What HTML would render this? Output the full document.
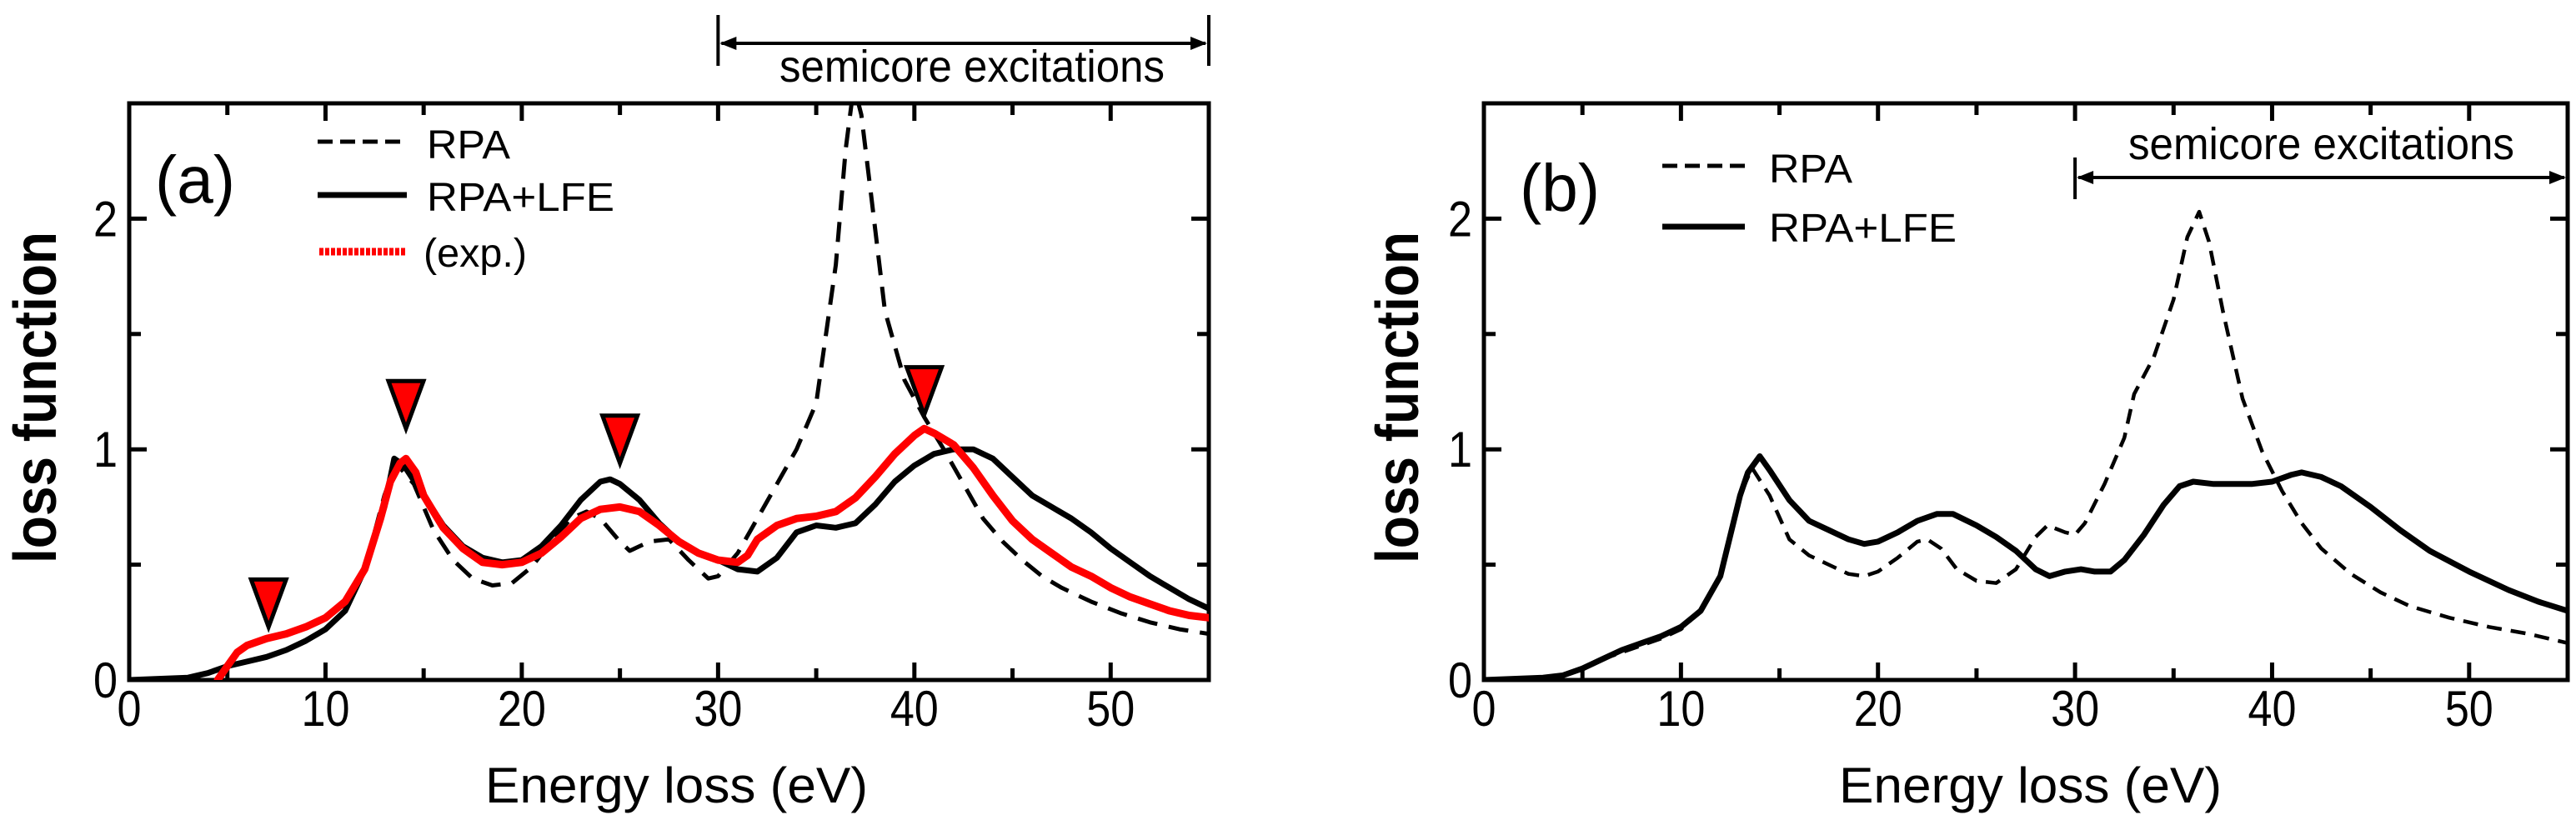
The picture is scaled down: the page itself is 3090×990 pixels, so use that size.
<!DOCTYPE html>
<html><head><meta charset="utf-8"><style>
html,body{margin:0;padding:0;background:#fff;}
svg{display:block;}
text{font-family:"Liberation Sans",Arial,sans-serif;fill:#000;}
</style></head><body>
<svg id="chart" width="3090" height="990" viewBox="0 0 3090 990" xmlns="http://www.w3.org/2000/svg"></svg>
<script>
// ---- Panel (a) data ----
const aRpaX=[0,3,4,5,6,7,8,9,10,11,12,13,13.6,14.5,15.5,16.5,17.5,18.5,19.5,20.5,21.5,22.5,23.3,24,25,25.5,26.5,27.5,28.5,29.5,30,31,32,33,34,35,36,36.5,36.8,37,37.3,37.8,38.5,39.5,40.5,41.5,42.5,43.5,44.5,45.5,46.5,47.5,49,50.5,52,53.5,55];
const aRpaY=[0,0.01,0.03,0.06,0.08,0.10,0.13,0.17,0.22,0.30,0.48,0.80,0.94,0.85,0.65,0.52,0.44,0.41,0.42,0.49,0.60,0.70,0.73,0.70,0.60,0.56,0.60,0.61,0.52,0.44,0.45,0.55,0.70,0.85,1.00,1.20,1.8,2.3,2.5,2.55,2.45,2.1,1.6,1.30,1.14,1.00,0.85,0.70,0.60,0.52,0.45,0.40,0.34,0.29,0.25,0.22,0.20];
const aLfeX=[0,3,4,5,6,7,8,9,10,11,12,13,13.5,14,15,16,17,18,19,20,21,22,23,24,24.5,25,26,27,28,29,30,31,32,33,34,35,36,37,38,39,40,41,42,43,44,45,46,47,48,49,50,51,52,53,54,55];
const aLfeY=[0,0.01,0.03,0.06,0.08,0.10,0.13,0.17,0.22,0.30,0.48,0.75,0.96,0.93,0.80,0.67,0.58,0.53,0.51,0.52,0.58,0.67,0.78,0.86,0.87,0.85,0.78,0.68,0.60,0.55,0.52,0.48,0.47,0.53,0.64,0.67,0.66,0.68,0.76,0.86,0.93,0.98,1.00,1.00,0.96,0.88,0.80,0.75,0.70,0.64,0.57,0.51,0.45,0.40,0.35,0.31];
const aExpX=[4.5,5,5.5,6,7,8,9,10,11,12,12.8,13.3,13.8,14.1,14.6,15,16,17,18,19,20,21,22,23,24,25,26,27,28,29,30,31,31.5,32,33,34,35,36,37,38,39,40,40.5,41,42,43,44,45,46,47,48,49,50,51,52,53,54,55];
const aExpY=[0,0.06,0.12,0.15,0.18,0.20,0.23,0.27,0.34,0.48,0.70,0.86,0.94,0.96,0.90,0.80,0.66,0.57,0.51,0.50,0.51,0.55,0.62,0.70,0.74,0.75,0.73,0.67,0.60,0.55,0.52,0.51,0.54,0.61,0.67,0.70,0.71,0.73,0.79,0.88,0.98,1.06,1.09,1.07,1.02,0.92,0.80,0.69,0.61,0.55,0.49,0.45,0.40,0.36,0.33,0.30,0.28,0.27];
const aMarkX=[7.1,14.1,25,40.5];
const aMarkY=[0.23,1.09,0.94,1.15];
// ---- Panel (b) data ----
const bRpaX=[0,3,4,5,6,7,8,9,10,11,12,13,13.6,14.5,15.5,16.5,17.5,18.5,19.3,20,21,22,22.5,23.2,24,25,26,27,28,28.6,29.5,30,30.5,31.5,32.5,33,34,35,35.7,36.3,36.8,37.5,38.5,39.5,40.5,41.5,42.5,44,45.5,47,49,51,53,55];
const bRpaY=[0,0.01,0.02,0.05,0.09,0.12,0.15,0.18,0.22,0.30,0.45,0.80,0.92,0.80,0.61,0.54,0.50,0.46,0.45,0.47,0.53,0.60,0.61,0.57,0.48,0.43,0.42,0.48,0.62,0.67,0.64,0.63,0.68,0.85,1.05,1.24,1.4,1.65,1.92,2.03,1.90,1.60,1.22,0.99,0.82,0.68,0.57,0.46,0.38,0.32,0.27,0.23,0.20,0.16];
const bLfeX=[0,3,4,5,6,7,8,9,10,11,12,13,13.4,14,14.5,15.5,16.5,17.5,18.5,19.3,20,21,22,23,23.8,25,26,27,28,28.7,29.5,30.3,31,31.8,32.5,33.5,34.5,35.3,36,37,38,39,40,41,41.5,42.5,43.5,45,46.5,48,50,52,53.5,55];
const bLfeY=[0,0.01,0.02,0.05,0.09,0.13,0.16,0.19,0.23,0.30,0.45,0.80,0.90,0.97,0.91,0.78,0.69,0.65,0.61,0.59,0.60,0.64,0.69,0.72,0.72,0.67,0.62,0.56,0.48,0.45,0.47,0.48,0.47,0.47,0.52,0.63,0.76,0.84,0.86,0.85,0.85,0.85,0.86,0.89,0.90,0.88,0.84,0.75,0.65,0.56,0.47,0.39,0.34,0.30];
const xTicks=[0,10,20,30,40,50];
const yTicks=[0,1,2];

const NS="http://www.w3.org/2000/svg";
const svg=document.getElementById('chart');
function mk(tag,attrs,parent){const e=document.createElementNS(NS,tag);for(const k in attrs)e.setAttribute(k,attrs[k]);(parent||svg).appendChild(e);return e;}

const TOP=124,BOT=816,YMAX=2.5,XMAX=55;
function panel(left,right,id){
  const g=mk('g',{});
  
  
  const sx=v=>left+(right-left)*v/XMAX;
  const sy=v=>BOT-(BOT-TOP)*v/YMAX;
  const clip=mk('clipPath',{id:'clip-'+id},g);
  mk('rect',{x:left,y:TOP,width:right-left,height:BOT-TOP},clip);
  for(let v=0;v<=XMAX;v+=5){
    const L=(v%10===0)?21:14;
    const t1=mk('line',{x1:sx(v),x2:sx(v),y1:BOT,y2:BOT-L,stroke:'#000','stroke-width':5},g);
    
    
    const t2=mk('line',{x1:sx(v),x2:sx(v),y1:TOP,y2:TOP+L,stroke:'#000','stroke-width':5},g);
    
    
  }
  for(let v=0;v<=YMAX;v+=0.5){
    const L=(Math.abs(v-Math.round(v))<1e-6)?21:14;
    const t1=mk('line',{x1:left,x2:left+L,y1:sy(v),y2:sy(v),stroke:'#000','stroke-width':5},g);
    
    
    const t2=mk('line',{x1:right,x2:right-L,y1:sy(v),y2:sy(v),stroke:'#000','stroke-width':5},g);
    
    
  }
  xTicks.forEach(v=>{
    const s=String(v);
    const t=mk('text',{x:sx(v),y:871,'font-size':60,'text-anchor':'middle',textLength:s.length*29,lengthAdjust:'spacingAndGlyphs'},g);
    t.textContent=s;
    
    
  });
  yTicks.forEach(v=>{
    const t=mk('text',{x:left-14,y:sy(v)+21,'font-size':60,'text-anchor':'end',textLength:29,lengthAdjust:'spacingAndGlyphs'},g);
    t.textContent=String(v);
    
    
  });
  const fr=mk('rect',{x:left,y:TOP,width:right-left,height:BOT-TOP,fill:'none',stroke:'#000','stroke-width':5},g);
  
  
  return {g,sx,sy,clipId:'clip-'+id};
}
function series(P,xs,ys,style,name){
  let d='';
  xs.forEach((x,i)=>{d+=(i?'L':'M')+P.sx(x).toFixed(1)+','+P.sy(ys[i]).toFixed(1);});
  const p=mk('path',Object.assign({d:d,fill:'none','stroke-linejoin':'round','clip-path':'url(#'+P.clipId+')'},style),P.g);
  
  
  return p;
}
function txt(x,y,s,size,name,extra){
  const t=mk('text',Object.assign({x:x,y:y,'font-size':size},extra||{}));
  t.textContent=s;
  
  
  return t;
}

const A=panel(155,1450,'a');
series(A,aRpaX,aRpaY,{stroke:'#000','stroke-width':5,'stroke-dasharray':'24 14'},'rpa-line-a');
series(A,aLfeX,aLfeY,{stroke:'#000','stroke-width':7},'rpa-lfe-line-a');
series(A,aExpX,aExpY,{stroke:'#f00','stroke-width':9,'stroke-linecap':'round'},'exp-line-a');
aMarkX.forEach((x,i)=>{
  const tx=A.sx(x),ty=A.sy(aMarkY[i]);
  const m=mk('polygon',{points:`${tx-21},${ty-57} ${tx+21},${ty-57} ${tx},${ty}`,fill:'#f00',stroke:'#000','stroke-width':5,'stroke-linejoin':'miter'},A.g);
  
  
});
const B=panel(1780,3080,'b');
series(B,bRpaX,bRpaY,{stroke:'#000','stroke-width':4.5,'stroke-dasharray':'18 11'},'rpa-line-b');
series(B,bLfeX,bLfeY,{stroke:'#000','stroke-width':7},'rpa-lfe-line-b');

txt(582,963,'Energy loss (eV)',60,'x-axis-title-a',{textLength:459,lengthAdjust:'spacingAndGlyphs'});
txt(2206,963,'Energy loss (eV)',60,'x-axis-title-b',{textLength:459,lengthAdjust:'spacingAndGlyphs'});
txt(0,0,'loss function',72,'y-axis-title-a',{transform:'translate(67,477) rotate(-90)','text-anchor':'middle','font-weight':'bold',textLength:398,lengthAdjust:'spacingAndGlyphs'});
txt(0,0,'loss function',72,'y-axis-title-b',{transform:'translate(1701,477) rotate(-90)','text-anchor':'middle','font-weight':'bold',textLength:398,lengthAdjust:'spacingAndGlyphs'});
txt(186,243,'(a)',80,'panel-label-a',{textLength:96,lengthAdjust:'spacingAndGlyphs'});
txt(1823,253,'(b)',80,'panel-label-b',{textLength:96,lengthAdjust:'spacingAndGlyphs'});
function legLine(x1,x2,y,style,name){const l=mk('line',Object.assign({x1:x1,x2:x2,y1:y,y2:y},style));}
legLine(381,488,170,{stroke:'#000','stroke-width':5,'stroke-dasharray':'18 9'},'legend-rpa-line-a');
txt(512,190,'RPA',48,'legend-rpa-label-a',{textLength:100,lengthAdjust:'spacingAndGlyphs'});
legLine(381,488,234,{stroke:'#000','stroke-width':7},'legend-lfe-line-a');
txt(512,253,'RPA+LFE',48,'legend-lfe-label-a',{textLength:225,lengthAdjust:'spacingAndGlyphs'});
legLine(383,486,302,{stroke:'#f00','stroke-width':9,'stroke-dasharray':'5 2'},'legend-exp-line-a');
txt(508,320,'(exp.)',48,'legend-exp-label-a',{textLength:124,lengthAdjust:'spacingAndGlyphs'});
legLine(1994,2093,199,{stroke:'#000','stroke-width':5,'stroke-dasharray':'18 9'},'legend-rpa-line-b');
txt(2122,219,'RPA',48,'legend-rpa-label-b',{textLength:100,lengthAdjust:'spacingAndGlyphs'});
legLine(1994,2093,272,{stroke:'#000','stroke-width':7},'legend-lfe-line-b');
txt(2122,290,'RPA+LFE',48,'legend-lfe-label-b',{textLength:225,lengthAdjust:'spacingAndGlyphs'});
function bracket(x1,x2,yTop,yBot,yArr,drawRight,name){
  const g=mk('g',{});
  
  
  mk('line',{x1:x1,x2:x1,y1:yTop,y2:yBot,stroke:'#000','stroke-width':4},g);
  if(drawRight)mk('line',{x1:x2,x2:x2,y1:yTop,y2:yBot,stroke:'#000','stroke-width':4},g);
  mk('line',{x1:x1+4,x2:x2-4,y1:yArr,y2:yArr,stroke:'#000','stroke-width':4},g);
  mk('polygon',{points:`${x1+2},${yArr} ${x1+22},${yArr-8} ${x1+22},${yArr+8}`,fill:'#000'},g);
  mk('polygon',{points:`${x2-2},${yArr} ${x2-22},${yArr-8} ${x2-22},${yArr+8}`,fill:'#000'},g);
}
bracket(A.sx(30),A.sx(55),18,79,52,true,'semicore-bracket-a');
txt(935,98,'semicore excitations',54,'semicore-label-a',{textLength:462,lengthAdjust:'spacingAndGlyphs'});
bracket(B.sx(30),B.sx(55),189,239,213,false,'semicore-bracket-b');
txt(2553,191,'semicore excitations',54,'semicore-label-b',{textLength:463,lengthAdjust:'spacingAndGlyphs'});
</script>
</body></html>
